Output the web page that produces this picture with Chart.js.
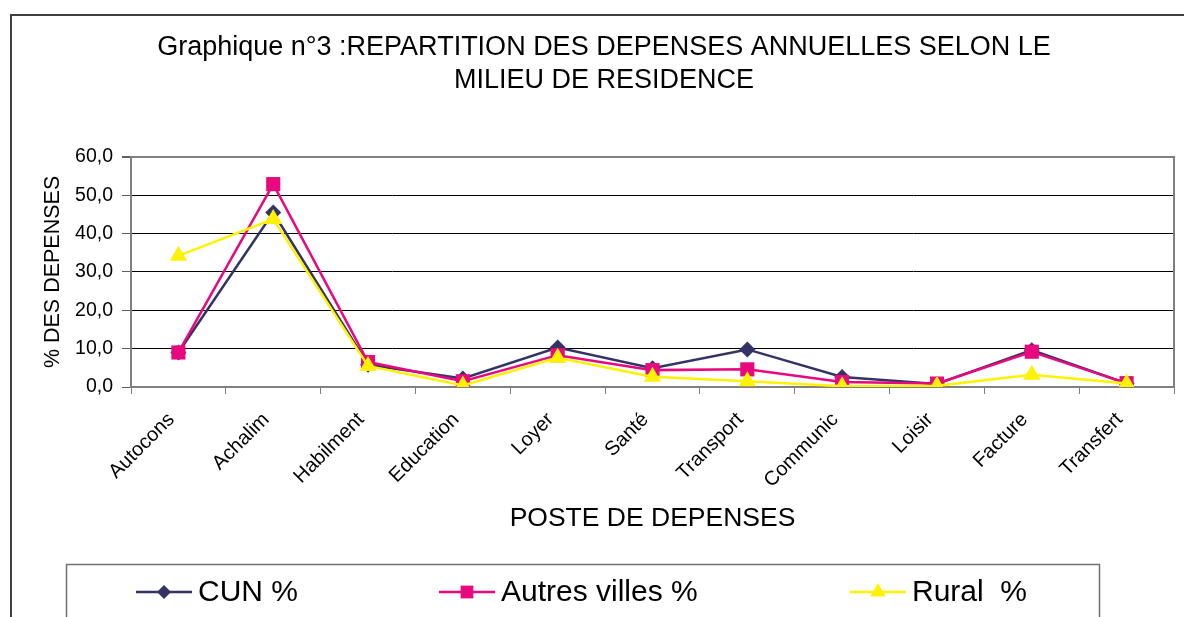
<!DOCTYPE html>
<html>
<head>
<meta charset="utf-8">
<script src="https://cdn.jsdelivr.net/npm/chart.js"></script>
<style>
  html, body { margin: 0; padding: 0; background: #fff; }
  #wrap { width: 1184px; height: 617px; position: relative; }
</style>
</head>
<body>
<div id="wrap"><canvas id="chart"></canvas></div>
<script>
// --- data ---
const categories = ['Autocons', 'Achalim', 'Habilment', 'Education', 'Loyer', 'Santé',
  'Transport', 'Communic', 'Loisir', 'Facture', 'Transfert'];
const cunValues = [9.0, 45.5, 5.8, 2.2, 10.3, 4.9, 9.8, 2.6, 0.8, 9.6, 0.9];
const autresValues = [9.0, 52.9, 6.5, 1.5, 8.3, 4.4, 4.6, 1.3, 0.9, 9.2, 1.0];
const ruralValues = [34.2, 43.8, 5.5, 0.4, 7.6, 2.7, 1.5, 0.2, 0.3, 3.2, 0.9];
const seriesNames = ['CUN %', 'Autres villes %', 'Rural  %'];
const yTicks = [0, 10, 20, 30, 40, 50, 60];

const FONT = "'Liberation Sans', Arial, sans-serif";
const colors = ['#333366', '#E8087F', '#FFF200'];
const markers = ['rectRot', 'rect', 'triangle'];
const radii = [8, 10, 10];

// small marker drawer for the legend (same shapes as the points)
function drawMarker(ctx, style, x, y, r, color) {
    ctx.save();
    ctx.fillStyle = color;
    ctx.beginPath();
    if (style === 'rectRot') {
        ctx.moveTo(x - r, y); ctx.lineTo(x, y - r); ctx.lineTo(x + r, y); ctx.lineTo(x, y + r);
    } else if (style === 'rect') {
        const s = r * Math.SQRT1_2;
        ctx.rect(x - s, y - s, 2 * s, 2 * s);
    } else {
        ctx.moveTo(x, y - r);
        ctx.lineTo(x + r * Math.sin(2 * Math.PI / 3), y - r * Math.cos(2 * Math.PI / 3));
        ctx.lineTo(x + r * Math.sin(4 * Math.PI / 3), y - r * Math.cos(4 * Math.PI / 3));
    }
    ctx.closePath();
    ctx.fill();
    ctx.restore();
}

// frame, plot border and the boxed legend under the chart
const decorations = {
    id: 'decorations',
    beforeDatasetsDraw(chart) {
        const { ctx, chartArea: a } = chart;
        ctx.save();
        ctx.strokeStyle = '#808080';
        ctx.lineWidth = 2;
        ctx.beginPath();
        ctx.moveTo(a.left, a.top);
        ctx.lineTo(a.right, a.top);
        ctx.lineTo(a.right, a.bottom);
        ctx.stroke();
        ctx.restore();
    },
    afterDraw(chart) {
        const ctx = chart.ctx;
        ctx.save();
        // outer frame (cut by the picture edges on the right and bottom)
        ctx.strokeStyle = '#404040';
        ctx.lineWidth = 2;
        ctx.beginPath();
        ctx.moveTo(11, 640);
        ctx.lineTo(11, 15);
        ctx.lineTo(1200, 15);
        ctx.stroke();

        // legend box
        ctx.strokeStyle = '#707070';
        ctx.lineWidth = 1.5;
        ctx.strokeRect(66.5, 564.5, 1033, 80);

        const starts = [136, 439, 850];
        const y = 592;
        ctx.font = '30px ' + FONT;
        ctx.textBaseline = 'middle';
        chart.data.datasets.forEach((ds, i) => {
            const x0 = starts[i];
            ctx.strokeStyle = ds.borderColor;
            ctx.lineWidth = 2.5;
            ctx.beginPath();
            ctx.moveTo(x0, y);
            ctx.lineTo(x0 + 56, y);
            ctx.stroke();
            drawMarker(ctx, ds.pointStyle, x0 + 28, y, ds.pointRadius - 1, ds.backgroundColor);
            ctx.fillStyle = '#000';
            ctx.fillText(ds.label, x0 + 62, y + 1);
        });
        ctx.restore();
    }
};

const seriesValues = [cunValues, autresValues, ruralValues];
const datasets = seriesNames.map((name, i) => ({
    label: name,
    data: seriesValues[i],
    borderColor: colors[i],
    backgroundColor: colors[i],
    pointBackgroundColor: colors[i],
    pointBorderColor: colors[i],
    pointBorderWidth: 0,
    borderWidth: 2.5,
    pointStyle: markers[i],
    pointRadius: radii[i],
    tension: 0,
    order: 3 - i
}));

new Chart(document.getElementById('chart'), {
    type: 'line',
    data: { labels: categories, datasets: datasets },
    options: {
        responsive: true,
        maintainAspectRatio: false,
        animation: false,
        events: [],
        layout: { padding: { left: 32, right: 8, top: 0, bottom: 80 } },
        plugins: {
            legend: { display: false },
            tooltip: { enabled: false },
            title: {
                display: true,
                text: ['Graphique n°3 :REPARTITION DES DEPENSES ANNUELLES SELON LE',
                    'MILIEU DE RESIDENCE'],
                color: '#000',
                font: { family: FONT, size: 27, weight: 'normal', lineHeight: 1.22 },
                padding: { top: 31, bottom: 60 }
            }
        },
        scales: {
            x: {
                type: 'category',
                offset: true,
                grid: {
                    offset: true,
                    drawOnChartArea: false,
                    drawTicks: true,
                    tickLength: 7,
                    color: '#808080',
                    lineWidth: 1
                },
                border: { display: true, color: '#808080', width: 2 },
                ticks: {
                    autoSkip: false,
                    minRotation: 45,
                    maxRotation: 45,
                    padding: 14,
                    labelOffset: -7,
                    color: '#000',
                    font: { family: FONT, size: 20 }
                },
                title: {
                    display: true,
                    text: 'POSTE DE DEPENSES',
                    color: '#000',
                    font: { family: FONT, size: 26.5 },
                    padding: { top: 0, bottom: 2 }
                },
                afterFit(scale) { scale.height = 150; }
            },
            y: {
                min: 0,
                max: 60,
                afterBuildTicks(scale) { scale.ticks = yTicks.map(v => ({ value: v })); },
                grid: {
                    color: (c) => (c.tick && c.tick.value === 60 ? '#808080' : '#000'),
                    lineWidth: (c) => (c.tick && c.tick.value === 60 ? 2 : 1),
                    tickColor: '#606060',
                    tickLength: 9,
                    drawTicks: true
                },
                border: { display: true, color: '#808080', width: 2 },
                ticks: {
                    padding: 9,
                    color: '#000',
                    font: { family: FONT, size: 19.5 },
                    callback: (v) => Number(v).toFixed(1).replace('.', ',')
                },
                title: {
                    display: true,
                    text: '% DES DEPENSES',
                    color: '#000',
                    font: { family: FONT, size: 21.5 },
                    padding: { top: 8, bottom: 0 }
                },
                afterFit(scale) { scale.width = 99; }
            }
        }
    },
    plugins: [decorations]
});
</script>
</body>
</html>
